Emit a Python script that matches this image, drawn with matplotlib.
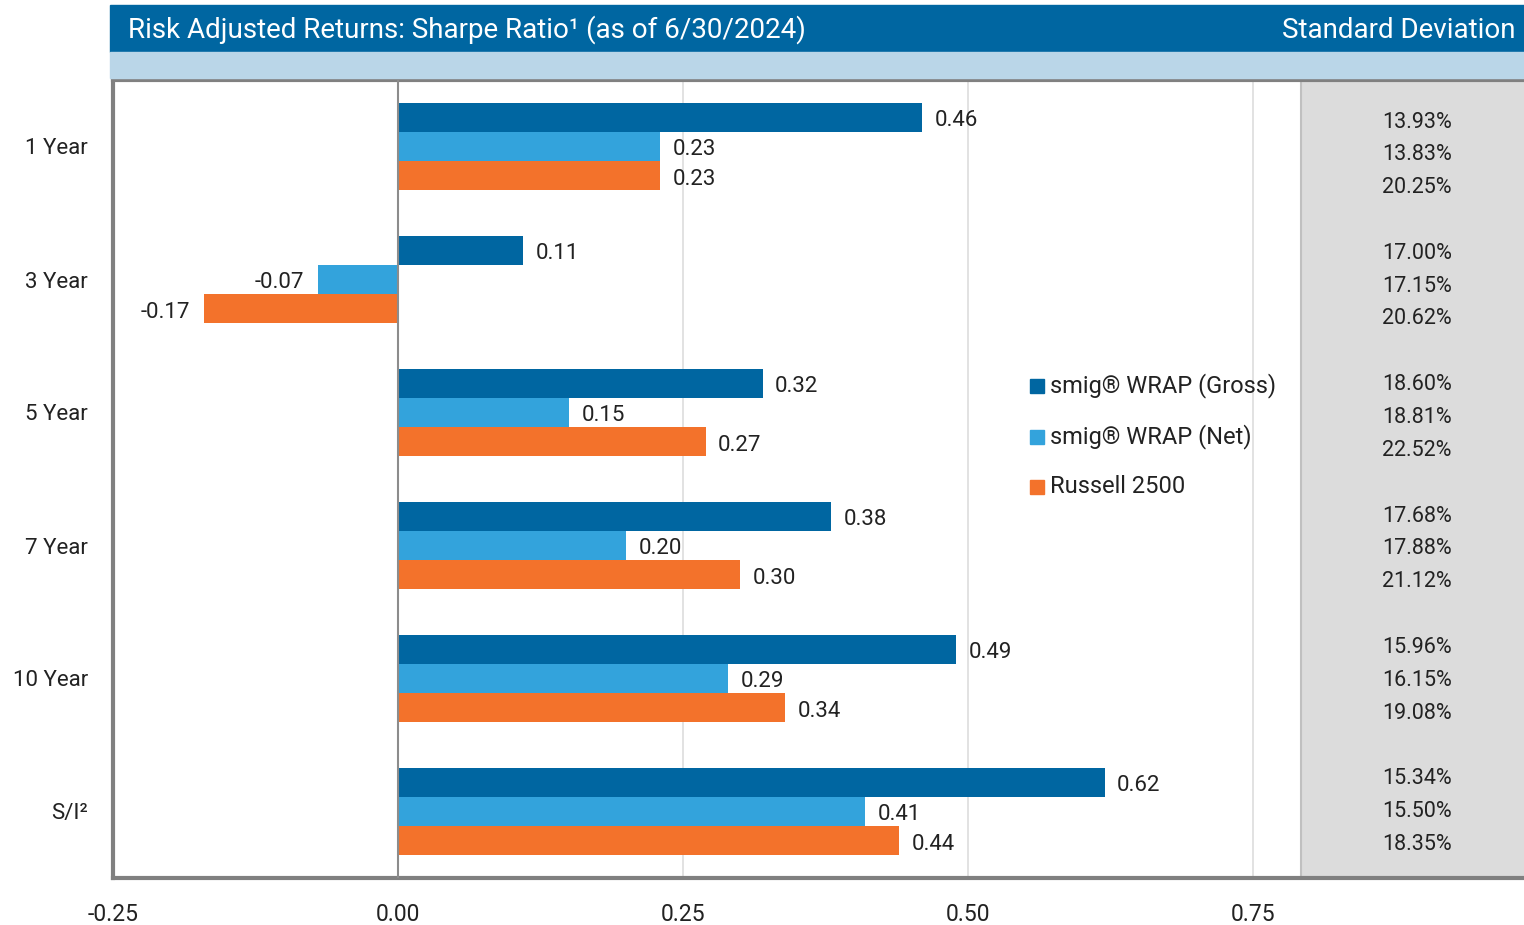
import matplotlib
matplotlib.use("Agg")
import matplotlib.pyplot as plt
from matplotlib.patches import Rectangle

plt.rcParams['font.family'] = ['Roboto', 'DejaVu Sans']

# data
periods = ['1 Year', '3 Year', '5 Year', '7 Year', '10 Year', 'S/I²']
gross = [0.46, 0.11, 0.32, 0.38, 0.49, 0.62]
net = [0.23, -0.07, 0.15, 0.20, 0.29, 0.41]
russell = [0.23, -0.17, 0.27, 0.30, 0.34, 0.44]
series_names = ['smig® WRAP (Gross)', 'smig® WRAP (Net)', 'Russell 2500']
std_gross = ['13.93%', '17.00%', '18.60%', '17.68%', '15.96%', '15.34%']
std_net = ['13.83%', '17.15%', '18.81%', '17.88%', '16.15%', '15.50%']
std_russell = ['20.25%', '20.62%', '22.52%', '21.12%', '19.08%', '18.35%']
xticks = [-0.25, 0.0, 0.25, 0.50, 0.75]

colors = ['#0066a1', '#33a3dc', '#f3722b']
txt = '#222222'
W, H = 1524, 925

fig = plt.figure(figsize=(W / 100, H / 100), dpi=100)

# header bars
fig.patches.append(Rectangle((110 / W, 1 - 52 / H), 1 - 110 / W, 47 / H,
                             transform=fig.transFigure, color='#0066a1', zorder=0))
fig.patches.append(Rectangle((110 / W, 1 - 78 / H), 1 - 110 / W, 26 / H,
                             transform=fig.transFigure, color='#bad6e8', zorder=0))
fig.text(128 / W, 1 - 30 / H, 'Risk Adjusted Returns: Sharpe Ratio¹ (as of 6/30/2024)',
         color='white', fontsize=20, va='center', ha='left')
fig.text(1516 / W, 1 - 30 / H, 'Standard Deviation', color='white', fontsize=20,
         va='center', ha='right')

ax = fig.add_axes([113 / W, 1 - 878 / H, (W - 113) / W, (878 - 80) / H])
ax.set_xlim(-0.25, 0.988)
ax.set_ylim(5.5, -0.5)

# std dev panel (grey block on the right)
ax.add_patch(Rectangle((0.792, 0), 1, 1, transform=ax.get_xaxis_transform(),
                       facecolor='#dcdcdc', edgecolor='#c0c0c0', lw=1.5, zorder=1))

for x in [0.25, 0.5, 0.75]:
    ax.axvline(x, color='#dddddd', lw=1.2, zorder=0)
ax.axvline(0, color='#8c8c8c', lw=1.5, zorder=3)

h = 0.22
offs = [-h, 0, h]
for i, (vals, c) in enumerate(zip([gross, net, russell], colors)):
    ys = [k + offs[i] for k in range(len(periods))]
    ax.barh(ys, vals, height=h, color=c, zorder=2)
    for y, v in zip(ys, vals):
        if v >= 0:
            ax.annotate(f'{v:.2f}', (v, y), xytext=(9, -2.4), textcoords='offset points',
                        ha='left', va='center', fontsize=16, color=txt, zorder=4)
        else:
            ax.annotate(f'{v:.2f}', (v, y), xytext=(-10, -2.4), textcoords='offset points',
                        ha='right', va='center', fontsize=16, color=txt, zorder=4)

ax.set_yticks(range(len(periods)))
ax.set_yticklabels(periods, fontsize=16, color=txt)
ax.set_xticks(xticks)
ax.set_xticklabels([f'{t:.2f}' for t in xticks], fontsize=16.5, color=txt)
ax.tick_params(length=0)
ax.tick_params(axis='y', pad=18)
ax.tick_params(axis='x', pad=18)

for s in ['left', 'top', 'bottom']:
    ax.spines[s].set_color('#808080')
    ax.spines[s].set_linewidth(3)
ax.spines['right'].set_visible(False)

# std dev column
for g in range(len(periods)):
    for k, col in enumerate([std_gross, std_net, std_russell]):
        ypx = 122 + g * 131.4 + k * 32.8
        fig.text(1417 / W, 1 - ypx / H, col[g], fontsize=15.5, color=txt,
                 ha='center', va='center')

# legend
for k, (name, c) in enumerate(zip(series_names, colors)):
    ypx = 386 + k * 50.5
    fig.patches.append(Rectangle((1030 / W, 1 - (ypx + 7) / H), 14 / W, 14 / H,
                                 transform=fig.transFigure, color=c))
    fig.text(1050 / W, 1 - ypx / H, name, fontsize=17, color=txt,
             ha='left', va='center')

fig.savefig('out.png', dpi=100)
